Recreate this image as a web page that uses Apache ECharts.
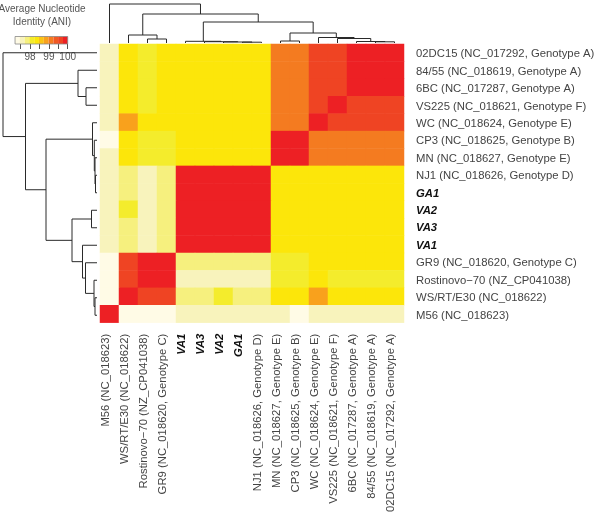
<!DOCTYPE html>
<html><head><meta charset="utf-8">
<style>html,body{margin:0;padding:0;background:#fff}#c{width:600px;height:515px}</style>
<script src="https://cdn.jsdelivr.net/npm/echarts@6/dist/echarts.min.js"></script>
</head><body><div id="c"></div>
<script>
const strains = ["M56 (NC_018623)","WS/RT/E30 (NC_018622)","Rostinovo\u221270 (NZ_CP041038)","GR9 (NC_018620, Genotype C)","VA1","VA3","VA2","GA1","NJ1 (NC_018626, Genotype D)","MN (NC_018627, Genotype E)","CP3 (NC_018625, Genotype B)","WC (NC_018624, Genotype E)","VS225 (NC_018621, Genotype F)","6BC (NC_017287, Genotype A)","84/55 (NC_018619, Genotype A)","02DC15 (NC_017292, Genotype A)"];
const rowLabels = strains.slice().reverse();
const boldStrains = ["VA1","VA2","VA3","GA1"];
// rows top to bottom, columns left to right
const ani = [
[97.6,98.3,98.1,98.3,98.3,98.3,98.3,98.3,98.3,99.1,99.1,99.6,99.6,99.9,99.9,99.9],
[97.6,98.3,98.1,98.3,98.3,98.3,98.3,98.3,98.3,99.1,99.1,99.6,99.6,99.9,99.9,99.9],
[97.6,98.3,98.1,98.3,98.3,98.3,98.3,98.3,98.3,99.1,99.1,99.6,99.6,99.9,99.9,99.9],
[97.6,98.3,98.1,98.3,98.3,98.3,98.3,98.3,98.3,99.1,99.1,99.6,99.9,99.6,99.6,99.6],
[97.6,98.9,98.3,98.3,98.3,98.3,98.3,98.3,98.3,99.1,99.1,99.9,99.6,99.6,99.6,99.6],
[97.3,98.3,98.1,98.1,98.3,98.3,98.3,98.3,98.3,99.9,99.9,99.1,99.1,99.1,99.1,99.1],
[97.6,98.3,98.1,98.1,98.3,98.3,98.3,98.3,98.3,99.9,99.9,99.1,99.1,99.1,99.1,99.1],
[97.6,97.9,97.6,97.9,99.9,99.9,99.9,99.9,99.9,98.3,98.3,98.3,98.3,98.3,98.3,98.3],
[97.6,97.9,97.6,97.9,99.9,99.9,99.9,99.9,99.9,98.3,98.3,98.3,98.3,98.3,98.3,98.3],
[97.6,98.1,97.6,97.9,99.9,99.9,99.9,99.9,99.9,98.3,98.3,98.3,98.3,98.3,98.3,98.3],
[97.6,97.9,97.6,97.9,99.9,99.9,99.9,99.9,99.9,98.3,98.3,98.3,98.3,98.3,98.3,98.3],
[97.6,97.9,97.6,97.9,99.9,99.9,99.9,99.9,99.9,98.3,98.3,98.3,98.3,98.3,98.3,98.3],
[97.3,99.6,99.9,99.9,97.9,97.9,97.9,97.9,97.9,98.1,98.1,98.3,98.3,98.3,98.3,98.3],
[97.3,99.6,99.9,99.9,97.6,97.6,97.6,97.6,97.6,98.1,98.1,98.3,98.1,98.1,98.1,98.1],
[97.3,99.9,99.6,99.6,97.9,97.9,98.1,97.9,97.9,98.3,98.3,98.9,98.3,98.3,98.3,98.3],
[99.9,97.3,97.3,97.3,97.6,97.6,97.6,97.6,97.6,97.6,97.3,97.6,97.6,97.6,97.6,97.6]
];
const binEdges = [97.2,97.45,97.71,97.96,98.22,98.47,98.73,98.98,99.24,99.49,99.75,100];
const binColors = ["#FFFBE6","#F8F3BC","#F6F07E","#F4EC2C","#FCE60A","#FBC314","#F9A11C","#F47B20","#F15A22","#EF4423","#ED2024"];
const legendTicks = [97.5,98,98.5,99,99.5,100];
const legendLabels = [98,99,100];
// Clustering tree: children are strain indexes or "mN" for an earlier merge
const mergeA = [14,13,12,11,9,"m4",7,6,5,4,"m9",2,1,"m12",0];
const mergeB = [15,"m0","m1","m2",10,"m3",8,"m6","m7","m8","m5",3,"m11","m10","m13"];
const topHeights = [1.2,1.5,4.5,5.5,2,10,0.8,1,1.3,1.7,21,4,8,29,39];
const leftHeights = [2,3,11.5,14.5,5.5,25,1.5,2,2.7,4.5,51,11,19,71.5,94];

function treeSegments(heights){
  const nodes = [];
  const read = c => typeof c === "string" ? nodes[+c.slice(1)] : {pos:c+0.5,h:0};
  return mergeA.map((a,i)=>{
    const A = read(a), B = read(mergeB[i]);
    nodes[i] = {pos:(A.pos+B.pos)/2,h:heights[i]};
    return [A.pos,A.h,B.pos,B.h,heights[i]];
  });
}
const cells = [];
ani.forEach((row,r)=>row.forEach((v,c)=>cells.push([c,r,v])));
const line = {stroke:"#2a2a2a",lineWidth:1,fill:null};
function treeTop(p,api){
  const pts=[[api.value(0),api.value(1)],[api.value(0),api.value(4)],[api.value(2),api.value(4)],[api.value(2),api.value(3)]].map(q=>api.coord(q));
  return {type:"polyline",shape:{points:pts},style:line};
}
function treeLeft(p,api){
  const pts=[[api.value(1),api.value(0)],[api.value(4),api.value(0)],[api.value(4),api.value(2)],[api.value(3),api.value(2)]].map(q=>api.coord(q));
  return {type:"polyline",shape:{points:pts},style:line};
}
const FONT = "Liberation Sans";
const labelRich = {b:{fontFamily:FONT,fontWeight:"bold",fontStyle:"italic",fontSize:11.3,color:"#111"}};
const fmt = v => boldStrains.includes(v) ? "{b|"+v+"}" : v;
const hidden = {axisLine:{show:false},axisTick:{show:false},axisLabel:{show:false},splitLine:{show:false}};

const chart = echarts.init(document.getElementById("c"),null,{renderer:"canvas"});
chart.setOption({
  animation:false,
  backgroundColor:"#fff",
  title:{text:"Average Nucleotide\nIdentity (ANI)",left:42,top:3,padding:0,textAlign:"center",
    textStyle:{fontFamily:FONT,fontSize:10,fontWeight:"normal",color:"#555",lineHeight:12.5}},
  grid:[
    {left:100,top:44,width:304,height:280},
    {left:100,top:4,width:304,height:39},
    {left:3,top:44,width:94,height:280},
    {left:11.3,top:36.5,width:56.4,height:7.5}
  ],
  xAxis:[
    {type:"category",gridIndex:0,data:strains,position:"bottom",axisLine:{show:false},axisTick:{show:false},splitLine:{show:false},
      axisLabel:{rotate:90,interval:0,margin:11,padding:[0,0,8,0],fontFamily:FONT,fontSize:11.3,color:"#444",formatter:fmt,rich:labelRich}},
    Object.assign({type:"value",gridIndex:1,min:0,max:16},hidden),
    Object.assign({type:"value",gridIndex:2,min:0,max:94,inverse:true},hidden),
    {type:"value",gridIndex:3,min:97,max:100,interval:0.5,position:"bottom",splitLine:{show:false},axisLine:{show:false},
      axisTick:{show:true,length:5,customValues:legendTicks,lineStyle:{color:"#555",width:1}},
      axisLabel:{show:true,customValues:legendLabels,margin:8,fontFamily:FONT,fontSize:10,color:"#555",hideOverlap:false}}
  ],
  yAxis:[
    {type:"category",gridIndex:0,data:rowLabels,position:"right",axisLine:{show:false},axisTick:{show:false},splitLine:{show:false},inverse:true,
      axisLabel:{interval:0,margin:12,padding:[3,0,0,0],fontFamily:FONT,fontSize:11.3,color:"#444",formatter:fmt,rich:labelRich}},
    Object.assign({type:"value",gridIndex:1,min:0,max:39},hidden),
    Object.assign({type:"value",gridIndex:2,min:0,max:16,inverse:true},hidden),
    Object.assign({type:"value",gridIndex:3,min:0,max:1},hidden)
  ],
  visualMap:{show:false,type:"piecewise",seriesIndex:0,dimension:2,
    pieces:binColors.map((c,i)=>({gte:binEdges[i],lt:binEdges[i+1],color:c}))},
  series:[
    {type:"heatmap",xAxisIndex:0,yAxisIndex:0,data:cells,progressive:0,itemStyle:{borderWidth:0}},
    {type:"custom",xAxisIndex:1,yAxisIndex:1,data:treeSegments(topHeights),renderItem:treeTop,silent:true,clip:false},
    {type:"custom",xAxisIndex:2,yAxisIndex:2,data:treeSegments(leftHeights),renderItem:treeLeft,silent:true,clip:false},
    {type:"custom",xAxisIndex:3,yAxisIndex:3,silent:true,clip:false,
      data:binColors.map((c,i)=>[binEdges[i],binEdges[i+1]]),
      renderItem(p,api){
        const a=api.coord([api.value(0),0]),b=api.coord([api.value(1),1]);
        return {type:"rect",shape:{x:a[0],y:b[1],width:b[0]-a[0],height:a[1]-b[1]},style:{fill:binColors[p.dataIndex]}};
      }},
    {type:"custom",xAxisIndex:3,yAxisIndex:3,silent:true,clip:false,
      data:[[binEdges[0],binEdges[binEdges.length-1]]],
      renderItem(p,api){
        const a=api.coord([api.value(0),0]),b=api.coord([api.value(1),1]);
        return {type:"rect",shape:{x:a[0],y:b[1],width:b[0]-a[0],height:a[1]-b[1]},style:{fill:null,stroke:"#888",lineWidth:0.8}};
      }}
  ]
});
</script></body></html>
